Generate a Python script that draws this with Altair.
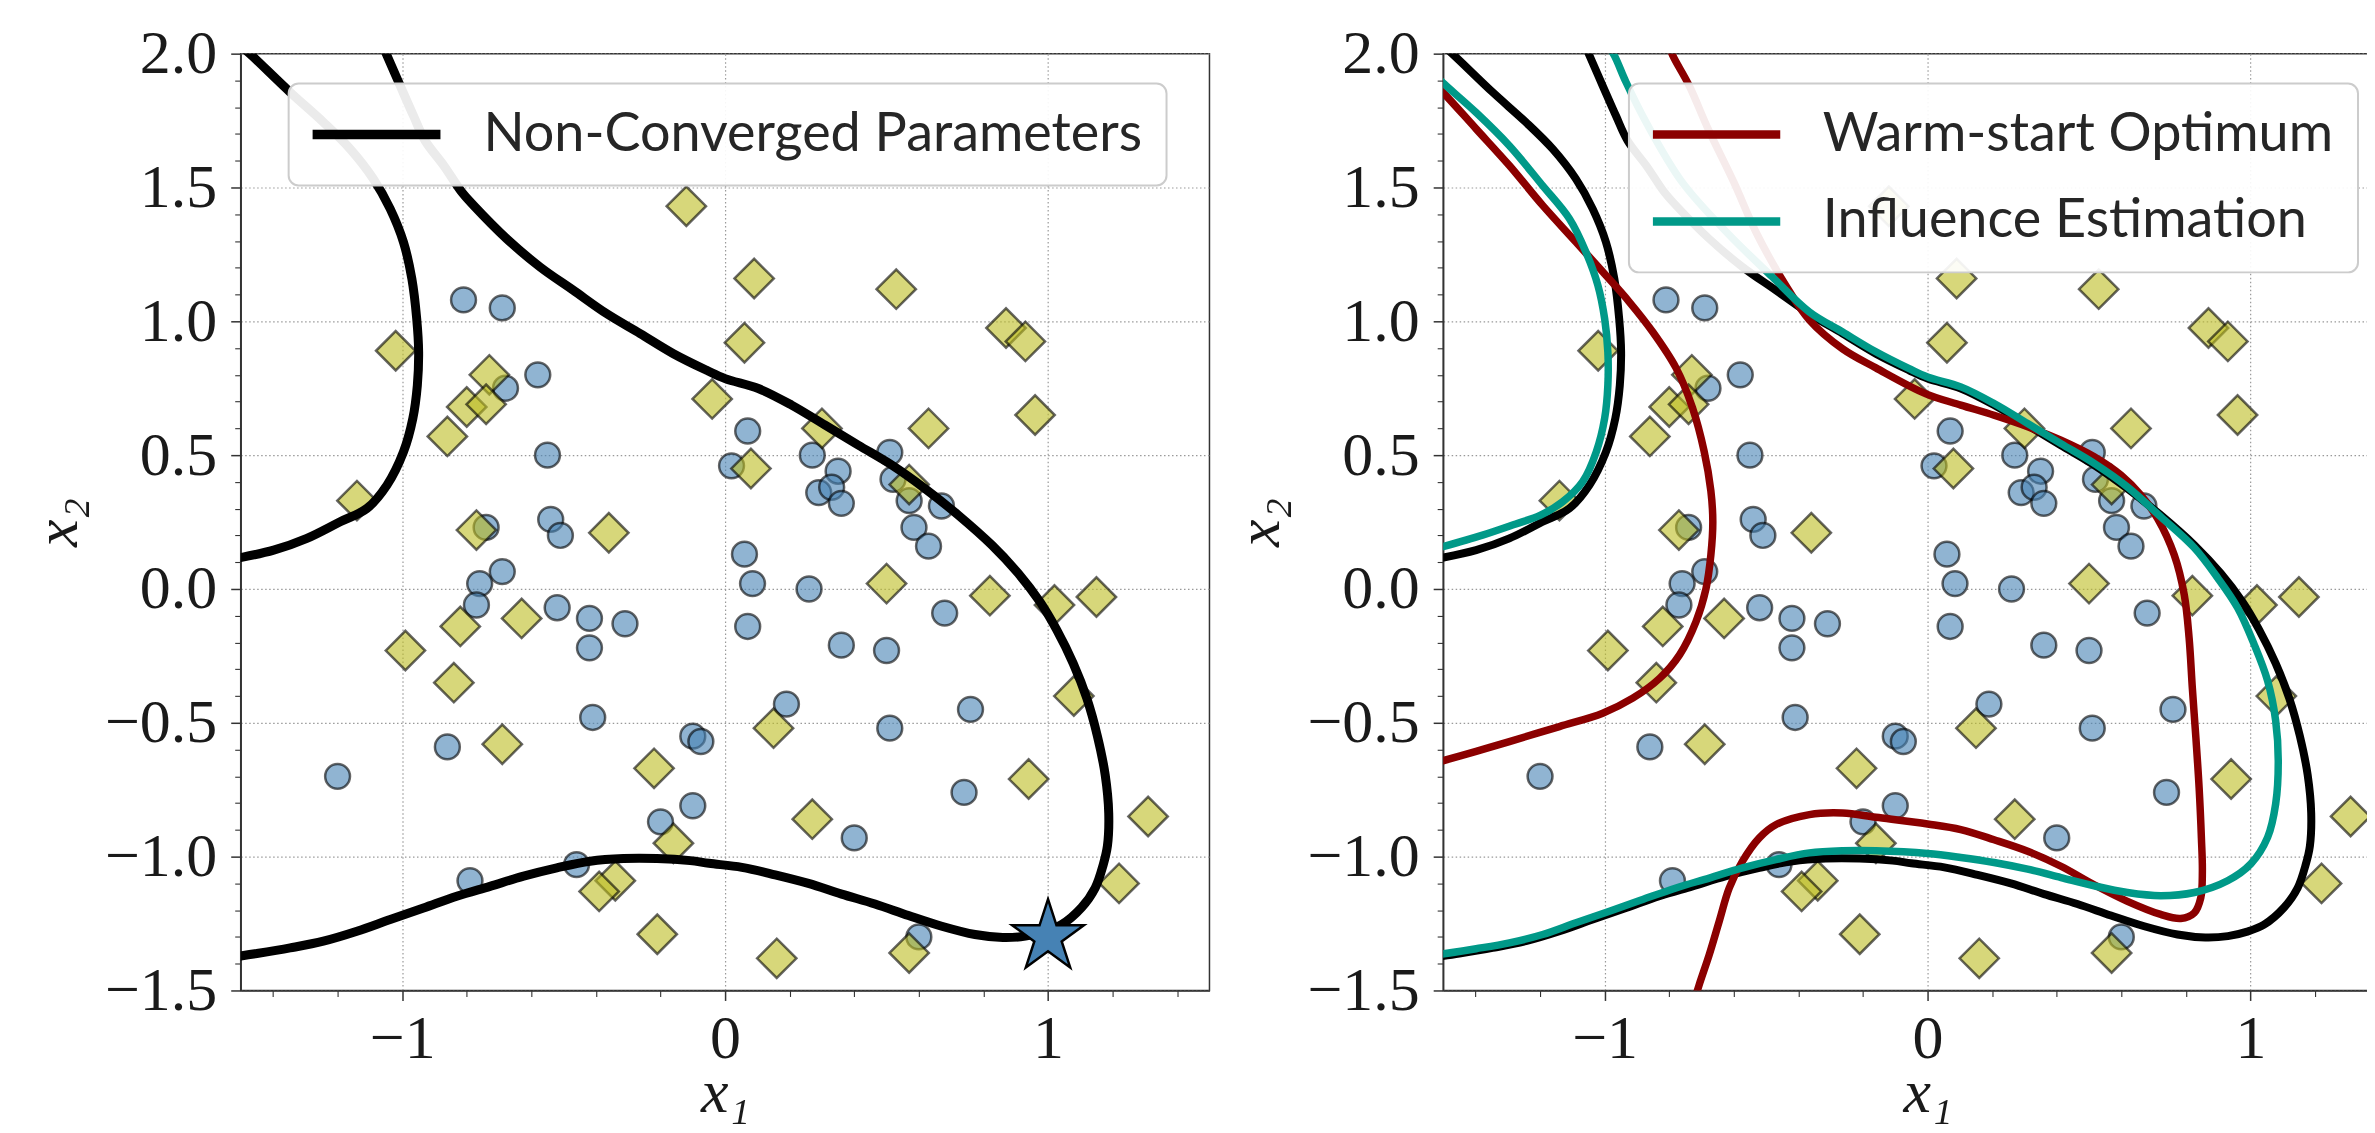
import altair as alt
import pandas as pd

X_DOMAIN = [-1.5, 1.5]
Y_DOMAIN = [-1.5, 2.0]
X_TICKS = [-1.4, -1.2, -1.0, -0.8, -0.6, -0.4, -0.2, 0.0, 0.2, 0.4, 0.6, 0.8, 1.0, 1.2, 1.4]
Y_TICKS = [-1.5, -1.4, -1.3, -1.2, -1.1, -1.0, -0.9, -0.8, -0.7, -0.6, -0.5, -0.4, -0.3, -0.2, -0.1,
           0.0, 0.1, 0.2, 0.3, 0.4, 0.5, 0.6, 0.7, 0.8, 0.9, 1.0, 1.1, 1.2, 1.3, 1.4, 1.5, 1.6, 1.7,
           1.8, 1.9, 2.0]

LABEL_BLACK = "Non-Converged Parameters"
LABEL_RED = "Warm-start Optimum"
LABEL_TEAL = "Influence Estimation"

circle_x = [-0.81, -0.69, -0.58, -0.68, -0.55, 0.02, 0.07, 0.27, 0.51, 0.35, 0.29, 0.33, 0.36, 0.52,
            0.57, 0.67, 0.585, 0.63, 0.06, 0.085, 0.26, 0.68, 0.07, 0.36, 0.50, 0.19, 0.51, 0.76,
            0.74, 0.40, 0.60, -0.74, -0.54, -0.51, -0.69, -0.76, -0.77, -0.52, -0.42, -0.31, -0.42,
            -0.41, -0.86, -1.20, -0.10, -0.075, -0.10, -0.20, -0.46, -0.79]
circle_y = [1.08, 1.05, 0.80, 0.75, 0.50, 0.46, 0.59, 0.50, 0.51, 0.44, 0.36, 0.38, 0.32, 0.41,
            0.33, 0.31, 0.23, 0.16, 0.13, 0.02, 0.00, -0.09, -0.14, -0.21, -0.23, -0.43, -0.52, -0.45,
            -0.76, -0.93, -1.30, 0.23, 0.26, 0.20, 0.065, 0.02, -0.06, -0.07, -0.11, -0.13, -0.22,
            -0.48, -0.59, -0.70, -0.55, -0.57, -0.81, -0.87, -1.03, -1.09]

diamond_x = [-0.12, -1.02, -0.73, -0.80, -0.74, -0.86, -0.04, -1.14, 0.09, 0.53, 0.87, 0.93, 0.06,
             0.96, 0.30, 0.63, 0.08, 0.57, 0.50, 0.82, 1.02, 1.15, 1.08, 0.15, 0.94, 0.27, 1.31, 1.22,
             0.57, 0.16, -0.77, -0.36, -0.82, -0.63, -0.99, -0.84, -0.69, -0.22, -0.16, -0.34,
             -0.39, -0.21]
diamond_y = [1.43, 0.89, 0.80, 0.68, 0.69, 0.57, 0.71, 0.33, 1.16, 1.12, 0.975, 0.925, 0.92, 0.65,
             0.60, 0.60, 0.45, 0.39, 0.02, -0.025, -0.06, -0.03, -0.40, -0.52, -0.71, -0.86, -0.85,
             -1.10, -1.36, -1.38, 0.22, 0.21, -0.14, -0.11, -0.23, -0.35, -0.58, -0.67, -0.95, -1.09,
             -1.13, -1.29]

star_x = [1.0]
star_y = [-1.3]

# black boundary (non-converged parameters)
black_a_x = [-1.50, -1.465, -1.347, -1.244, -1.161, -1.089, -1.037, -0.996, -0.970, -0.955, -0.949,
             -0.953, -0.967, -0.996, -1.047, -1.109, -1.192, -1.295, -1.398, -1.51]
black_a_y = [2.03, 1.992, 1.856, 1.744, 1.644, 1.532, 1.42, 1.296, 1.159, 1.01, 0.885, 0.761, 0.637,
             0.512, 0.388, 0.301, 0.251, 0.189, 0.145, 0.115]
black_b_x = [-1.06, -1.047, -1.006, -0.965, -0.929, -0.87, -0.815, -0.779, -0.676, -0.573, -0.47,
             -0.366, -0.263, -0.16, -0.057, 0.0, 0.103, 0.206, 0.31, 0.413, 0.516, 0.619, 0.722,
             0.826, 0.908, 0.975, 1.027, 1.078, 1.12, 1.153, 1.177, 1.188, 1.184, 1.171, 1.146,
             1.104, 1.042, 0.99, 0.93, 0.86, 0.774, 0.671, 0.568, 0.464, 0.361, 0.258, 0.155, 0.052,
             -0.05, -0.108, -0.211, -0.315, -0.418, -0.521, -0.624, -0.728, -0.831, -0.934, -1.037,
             -1.14, -1.244, -1.347, -1.45, -1.51]
black_b_y = [2.03, 1.993, 1.88, 1.768, 1.675, 1.58, 1.482, 1.433, 1.308, 1.203, 1.116, 1.028, 0.954,
             0.879, 0.817, 0.786, 0.749, 0.687, 0.612, 0.537, 0.463, 0.375, 0.276, 0.164, 0.058,
             -0.048, -0.153, -0.278, -0.408, -0.55, -0.694, -0.837, -0.96, -1.03, -1.117, -1.19,
             -1.254, -1.28, -1.297, -1.302, -1.291, -1.26, -1.22, -1.177, -1.14, -1.1, -1.068, -1.04,
             -1.025, -1.015, -1.007, -1.007, -1.017, -1.042, -1.073, -1.111, -1.148, -1.192, -1.235,
             -1.279, -1.316, -1.341, -1.362, -1.373]

# dark red boundary (warm-start optimum)
red_a_x = [-1.53, -1.502, -1.398, -1.295, -1.192, -1.089, -1.006, -0.924, -0.852, -0.779, -0.728,
           -0.692, -0.671, -0.665, -0.671, -0.686, -0.717, -0.768, -0.83, -0.913, -1.006, -1.14,
           -1.295, -1.398, -1.51]
red_a_y = [1.89, 1.857, 1.719, 1.582, 1.433, 1.296, 1.185, 1.073, 0.962, 0.826, 0.677, 0.515, 0.366,
           0.252, 0.127, 0.002, -0.122, -0.246, -0.334, -0.408, -0.464, -0.514, -0.57, -0.607, -0.645]
red_b_x = [-0.80, -0.789, -0.738, -0.68, -0.60, -0.53, -0.439, -0.366, -0.263, -0.16, -0.005, 0.103,
           0.206, 0.31, 0.413, 0.516, 0.599, 0.66, 0.712, 0.764, 0.795, 0.81, 0.82, 0.831, 0.841,
           0.848, 0.851, 0.846, 0.826, 0.784, 0.722, 0.619, 0.516, 0.413, 0.31, 0.206, 0.103, 0.0,
           -0.16, -0.263, -0.366, -0.47, -0.521, -0.573, -0.614, -0.645, -0.676, -0.707, -0.72]
red_b_y = [2.03, 1.993, 1.88, 1.72, 1.52, 1.33, 1.134, 1.005, 0.897, 0.826, 0.729, 0.687, 0.649,
           0.606, 0.556, 0.494, 0.425, 0.351, 0.264, 0.127, -0.022, -0.184, -0.371, -0.557, -0.744,
           -0.93, -1.055, -1.154, -1.21, -1.231, -1.216, -1.167, -1.105, -1.036, -0.98, -0.937,
           -0.899, -0.878, -0.853, -0.837, -0.843, -0.881, -0.93, -1.017, -1.117, -1.241, -1.366,
           -1.478, -1.53]

# teal boundary (influence estimation)
teal_a_x = [-1.53, -1.502, -1.398, -1.295, -1.192, -1.109, -1.058, -1.021, -1.0, -0.99, -0.99, -1.0,
            -1.026, -1.068, -1.13, -1.20, -1.275, -1.378, -1.51]
teal_a_y = [1.925, 1.892, 1.78, 1.656, 1.507, 1.383, 1.259, 1.135, 1.01, 0.885, 0.761, 0.637, 0.512,
            0.401, 0.326, 0.275, 0.243, 0.201, 0.155]
teal_b_x = [-0.99, -0.97, -0.934, -0.87, -0.76, -0.62, -0.48, -0.366, -0.263, -0.16, -0.057, 0.0,
            0.103, 0.206, 0.31, 0.413, 0.516, 0.619, 0.722, 0.826, 0.898, 0.96, 1.011, 1.053, 1.078,
            1.086, 1.078, 1.053, 1.001, 0.929, 0.826, 0.722, 0.619, 0.516, 0.413, 0.31, 0.206, 0.103,
            0.0, -0.16, -0.263, -0.366, -0.47, -0.573, -0.676, -0.779, -0.882, -0.985, -1.089,
            -1.192, -1.295, -1.398, -1.51]
teal_b_y = [2.03, 1.993, 1.894, 1.74, 1.52, 1.33, 1.165, 1.035, 0.96, 0.886, 0.823, 0.792, 0.755,
            0.693, 0.618, 0.543, 0.469, 0.381, 0.27, 0.154, 0.042, -0.07, -0.206, -0.343, -0.492,
            -0.642, -0.803, -0.928, -1.027, -1.09, -1.134, -1.146, -1.134, -1.109, -1.078, -1.047,
            -1.022, -1.003, -0.988, -0.978, -0.978, -0.986, -1.011, -1.042, -1.08, -1.117, -1.16,
            -1.204, -1.247, -1.291, -1.322, -1.344, -1.365]

STAR_PATH = ("M0,-1L0.2245,-0.309L0.951,-0.309L0.363,0.118L0.588,0.809L0,0.382L-0.588,0.809"
             "L-0.363,0.118L-0.951,-0.309L-0.2245,-0.309Z")


def curve(name, seg, xs, ys):
    return pd.DataFrame({"x": xs, "y": ys, "i": list(range(len(xs))), "series": name, "seg": seg})


circles_df = pd.DataFrame({"x": circle_x, "y": circle_y})
diamonds_df = pd.DataFrame({"x": diamond_x, "y": diamond_y})
star_df = pd.DataFrame({"x": star_x, "y": star_y})
black_df = pd.concat([curve(LABEL_BLACK, "a", black_a_x, black_a_y),
                      curve(LABEL_BLACK, "b", black_b_x, black_b_y)])
colored_df = pd.concat([curve(LABEL_RED, "ra", red_a_x, red_a_y),
                        curve(LABEL_RED, "rb", red_b_x, red_b_y),
                        curve(LABEL_TEAL, "ta", teal_a_x, teal_a_y),
                        curve(LABEL_TEAL, "tb", teal_b_x, teal_b_y)])

MAJOR_X = "abs(datum.value - round(datum.value)) < 0.001"
MAJOR_Y = "abs(datum.value * 2 - round(datum.value * 2)) < 0.001"

x_enc = alt.X(
    "x:Q",
    scale=alt.Scale(domain=X_DOMAIN, nice=False, zero=False),
    axis=alt.Axis(
        values=X_TICKS, title="x₁",
        labelExpr=f"{MAJOR_X} ? format(datum.value, 'd') : ''",
        tickSize={"condition": {"test": MAJOR_X, "value": 10}, "value": 6},
        tickWidth={"condition": {"test": MAJOR_X, "value": 1.5}, "value": 1.1},
        gridOpacity={"condition": {"test": MAJOR_X, "value": 1}, "value": 0},
        labelPadding=8, titlePadding=-7,
    ),
)
y_enc = alt.Y(
    "y:Q",
    scale=alt.Scale(domain=Y_DOMAIN, nice=False, zero=False),
    axis=alt.Axis(
        values=Y_TICKS, title="x₂",
        labelExpr=f"{MAJOR_Y} ? format(datum.value, '.1f') : ''",
        tickSize={"condition": {"test": MAJOR_Y, "value": 10}, "value": 6},
        tickWidth={"condition": {"test": MAJOR_Y, "value": 1.5}, "value": 1.1},
        gridOpacity={"condition": {"test": MAJOR_Y, "value": 1}, "value": 0},
        labelPadding=14, titlePadding=15,
    ),
)


def legend(x, y, sw, label_expr):
    return alt.Legend(
        title=None, orient="none", legendX=x, legendY=y, symbolType="stroke",
        symbolSize=17161, symbolStrokeWidth=sw, symbolOffset=-8, labelFont="Lato",
        labelFontSize=54, labelColor="#262626", labelLimit=2000, labelOffset=38, padding=24,
        cornerRadius=10, fillColor="rgba(255,255,255,0.92)", strokeColor="#cccccc",
        clipHeight=54, rowPadding=33, labelExpr=label_expr,
    )


def points():
    c = alt.Chart(circles_df).mark_point(
        shape="circle", filled=True, fill="#4682b4", stroke="#000000", strokeWidth=2.5,
        fillOpacity=0.6, strokeOpacity=0.6, opacity=1, size=620,
    ).encode(x=x_enc, y=y_enc)
    d = alt.Chart(diamonds_df).mark_point(
        shape="diamond", filled=True, fill="#bcbd22", stroke="#000000", strokeWidth=2.5,
        fillOpacity=0.6, strokeOpacity=0.6, opacity=1, size=1550,
    ).encode(x=x_enc, y=y_enc)
    return c, d


W, H = 970, 938

c1, d1 = points()
left_lines = alt.Chart(black_df).mark_line(strokeWidth=9, clip=True, interpolate="catmull-rom").encode(
    x=x_enc, y=y_enc, order="i:Q", detail="seg:N",
    color=alt.Color("series:N", scale=alt.Scale(domain=[LABEL_BLACK], range=["#000000"]),
                    legend=legend(48, 30, 9.5, "datum.label")),
)
star = alt.Chart(star_df).mark_point(
    shape=STAR_PATH, filled=True, fill="#4682b4", stroke="#000000", strokeWidth=2.5,
    opacity=1, size=5700,
).encode(x=x_enc, y=y_enc)
left = alt.layer(c1, d1, left_lines, star).properties(width=W, height=H)

c2, d2 = points()
right_black = alt.Chart(black_df).mark_line(
    strokeWidth=8, clip=True, color="#000000", interpolate="catmull-rom"
).encode(x=x_enc, y=y_enc, order="i:Q", detail="seg:N")
right_col = alt.Chart(colored_df).mark_line(strokeWidth=7.5, clip=True, interpolate="catmull-rom").encode(
    x=x_enc, y=y_enc, order="i:Q", detail="seg:N",
    color=alt.Color("series:N", scale=alt.Scale(domain=[LABEL_RED, LABEL_TEAL],
                                                range=["#8b0000", "#009988"]),
                    legend=legend(186, 30, 8.5, "datum.label + ' '")),
)
right = alt.layer(c2, d2, right_black, right_col).properties(width=W, height=H)

chart = alt.hconcat(left, right, spacing=17).resolve_scale(color="independent").resolve_legend(
    color="independent"
).properties(
    padding={"left": 17, "top": 13, "right": -46, "bottom": 1}
).configure_view(
    stroke="#333333", strokeWidth=1.5
).configure_axis(
    domainColor="#333333", domainWidth=1.5, tickColor="#333333",
    labelFont="Liberation Serif", labelFontSize=62, labelColor="#1a1a1a",
    titleFont="Liberation Serif", titleFontSize=62, titleFontStyle="italic",
    titleFontWeight="normal", titleColor="#1a1a1a",
    gridColor="#999999", gridDash=[1.5, 2.5], gridWidth=1.2,
).configure_legend(
    strokeWidth=2
)

chart.save("out.html", embed_options={"renderer": "svg", "actions": False})
